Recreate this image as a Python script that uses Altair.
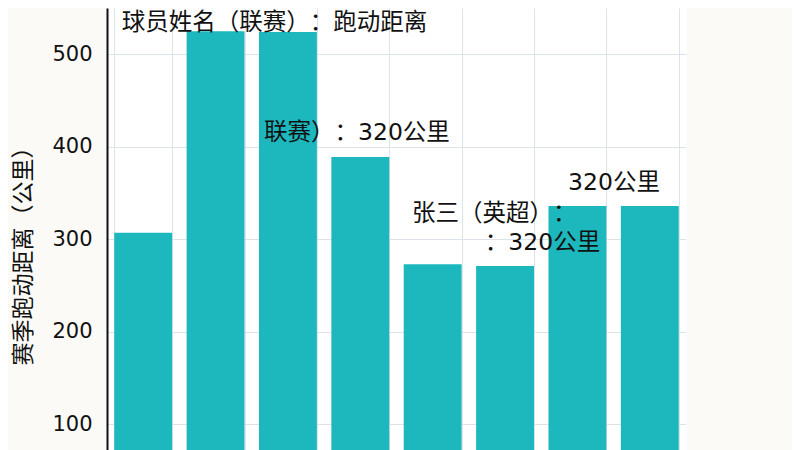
import altair as alt
import pandas as pd

# Bars (x labels are outside the visible crop)
players = ["张三", "李四", "王五", "赵六", "孙七", "周八", "吴九", "郑十"]
distances = [307, 525, 524, 389, 273, 271, 336, 336]

# Overlaid annotation texts (x in band units, y in data units)
ZW = "\u200b"  # keeps Chrome from trimming the space of adjacent full-width punctuation
ann_text = ["球员姓名（联赛）" + ZW + "：跑动距离", "联赛）" + ZW + "：320公里",
            "张三（英超）" + ZW + "：", "：320公里", "320公里"]
ann_x = [0.205, 2.169, 4.214, 5.22, 6.37]
ann_y = [534, 414.6, 327, 295.7, 360.5]

y_ticks = [100, 200, 300, 400, 500]

bars_df = pd.DataFrame({"球员": players, "距离": distances})
ann_df = pd.DataFrame({"text": ann_text, "xpos": ann_x, "ypos": ann_y})

FONT = "DejaVu Sans, Noto Sans CJK SC"
y_scale = alt.Scale(domain=[72.2, 550], zero=False, nice=False)

bars = alt.Chart(bars_df).mark_bar(color="#1db8bd", clip=True).encode(
    x=alt.X("球员:N", sort=players,
            scale=alt.Scale(paddingInner=0.2, paddingOuter=0.1),
            axis=alt.Axis(labels=False, ticks=False, domain=False, title=None,
                          grid=True, tickBand="extent", gridColor="#dde3ea")),
    y=alt.Y("距离:Q", scale=y_scale,
            axis=alt.Axis(values=y_ticks, title="赛季跑动距离（公里）",
                          titleFont=FONT, titleFontSize=23, titleFontWeight="normal",
                          titleColor="#111", titleAngle=270, titleX=-84, titleY=242,
                          titleAlign="center", titleBaseline="middle",
                          labelFont=FONT, labelFontSize=21, labelColor="#111",
                          labelPadding=15, ticks=False,
                          domainColor="#111", domainWidth=2,
                          grid=True, gridColor="#dde3ea")),
)

texts = alt.Chart(ann_df).mark_text(
    font=FONT, fontSize=23.5, color="#111", align="left", baseline="middle"
).encode(
    x=alt.X("xpos:Q", scale=alt.Scale(domain=[0, 8], nice=False, zero=False), axis=None),
    y=alt.Y("ypos:Q", scale=y_scale),
    text="text:N",
)

chart = alt.layer(bars, texts).resolve_scale(x="independent").properties(
    width=579, height=442,
    background="#fbfaf6",
    autosize=alt.AutoSizeParams(type="none"),
    padding={"left": 99, "top": 0, "right": 106, "bottom": 0},
).configure_view(fill="white", stroke="transparent")

chart.save("out.html", embed_options={"renderer": "svg", "actions": False})
